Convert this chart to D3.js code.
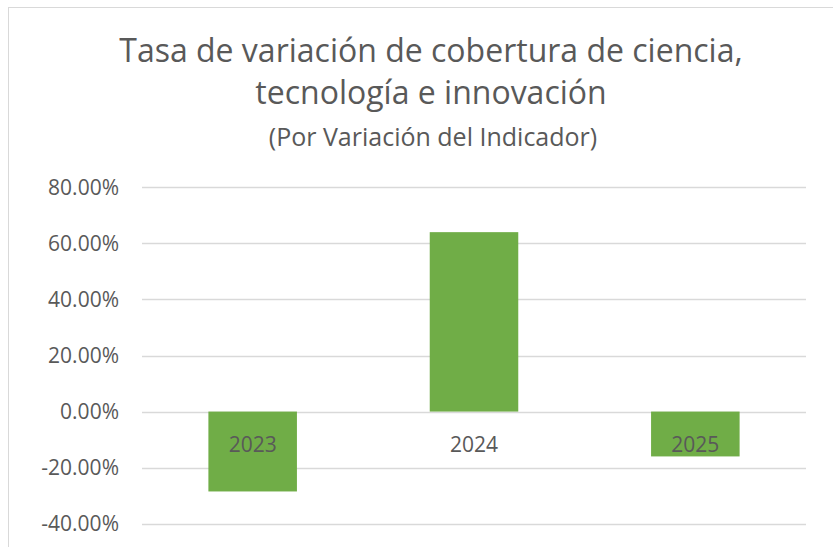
<!DOCTYPE html>
<html>
<head>
<meta charset="utf-8">
<title>Tasa de variación de cobertura</title>
<script src="https://d3js.org/d3.v7.min.js"></script>
<style>
html, body {
	margin: 0;
	padding: 0;
	background: #fff;
}
</style>
</head>
<body>
<div id="chart"></div>
<script>
	// data
	var years = ["2023", "2024", "2025"];
	var values = [-0.285, 0.64, -0.16];
	var ticks = [-0.4, -0.2, 0, 0.2, 0.4, 0.6, 0.8];
	var titleLines = ["Tasa de variación de cobertura de ciencia,", "tecnología e innovación"];
	var subtitle = "(Por Variación del Indicador)";

	var width = 833, height = 547;
	var font = "'Open Sans', sans-serif";
	var textColor = "#595959";

	var svg = d3.select("#chart").append("svg")
		.attr("width", width)
		.attr("height", height)
		.style("display", "block");

	// chart area border (runs off the right and bottom edge)
	svg.append("rect")
		.attr("x", 8.5)
		.attr("y", 7.5)
		.attr("width", 900)
		.attr("height", 600)
		.attr("fill", "#fff")
		.attr("stroke", "#d9d9d9");

	var x = d3.scaleBand()
		.domain(years)
		.range([142, 806])
		.paddingInner(0.6)
		.paddingOuter(0.3);

	var y = d3.scaleLinear()
		.domain([-0.4, 0.8])
		.range([523.7, 187.3]);

	// gridlines
	svg.append("g")
		.selectAll("line")
		.data(ticks)
		.join("line")
			.attr("x1", 142)
			.attr("x2", 806)
			.attr("y1", d => Math.round(y(d)) + 0.5)
			.attr("y2", d => Math.round(y(d)) + 0.5)
			.attr("stroke", "#d9d9d9")
			.attr("stroke-width", 1.3);

	// y axis labels, plain hyphen for the minus sign like Excel
	var fmt = d3.formatLocale({decimal: ".", thousands: ",", grouping: [3], currency: ["$", ""], minus: "-"}).format(".2%");
	svg.append("g")
		.attr("font-family", font)
		.attr("font-size", 21)
		.attr("fill", textColor)
		.attr("text-anchor", "end")
		.selectAll("text")
		.data(ticks)
		.join("text")
			.attr("x", 119)
			.attr("y", d => y(d))
			.attr("dy", "0.36em")
			.text(d => fmt(d));

	// bars
	svg.append("g")
		.selectAll("rect")
		.data(values)
		.join("rect")
			.attr("x", (d, i) => x(years[i]))
			.attr("width", x.bandwidth())
			.attr("y", d => y(Math.max(0, d)))
			.attr("height", d => Math.abs(y(d) - y(0)))
			.attr("fill", "#70ad47");

	// category labels sit just under the zero line
	svg.append("g")
		.attr("font-family", font)
		.attr("font-size", 21)
		.attr("fill", textColor)
		.attr("text-anchor", "middle")
		.selectAll("text")
		.data(years)
		.join("text")
			.attr("x", d => x(d) + x.bandwidth() / 2)
			.attr("y", y(0) + 40)
			.text(d => d);

	// title
	var title = svg.append("g")
		.attr("font-family", font)
		.attr("fill", textColor)
		.attr("text-anchor", "middle");

	title.selectAll("text.t")
		.data(titleLines)
		.join("text")
			.attr("class", "t")
			.attr("x", 431)
			.attr("y", (d, i) => 62 + i * 42)
			.attr("font-size", 32)
			.text(d => d);

	title.append("text")
		.attr("x", 433)
		.attr("y", 146)
		.attr("font-size", 25)
		.text(subtitle);
</script>
</body>
</html>
